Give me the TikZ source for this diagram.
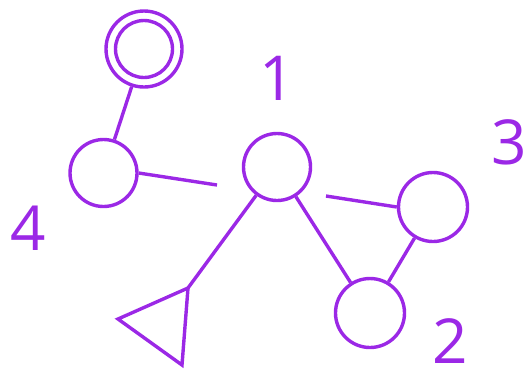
\documentclass[tikz,border=0pt]{standalone}
\usepackage{fontspec}
\setmainfont{Open Sans}
\definecolor{vio}{RGB}{155,40,230}
\begin{document}
\begin{tikzpicture}[x=1pt,y=-1pt,
  nd/.style={circle,draw=vio,line width=3.4pt,minimum size=#1,inner sep=0pt},
  nd/.default=66pt,
  ln/.style={draw=vio,line width=3.4pt},
  lbl/.style={text=vio,font=\fontsize{62}{62}\selectfont,inner sep=0pt}]
\useasboundingbox (0,0) rectangle (526,376);
\node[nd=76pt] (d) at (144,49) {};
\node[nd=57pt] (din) at (144,49) {};
\node[nd=67pt] (n4) at (103.5,173) {};
\node[nd=67pt] (n1) at (277,167) {};
\node[nd=69pt] (n2) at (370,313) {};
\node[nd=69pt] (n3) at (433,207) {};
\coordinate (e4) at (217,185);
\coordinate (e3) at (326,196);
\coordinate (ta) at (188,288);
\coordinate (tb) at (118,319);
\coordinate (tc) at (182,365);
\draw[ln] (d) -- (n4);
\draw[ln] (n4.east) -- (e4);
\draw[ln] (n1) -- (ta);
\draw[ln] (n1) -- (n2);
\draw[ln] (e3) -- (n3.west);
\draw[ln] (n3) -- (n2);
\draw[ln,line join=miter] (ta) -- (tb) -- (tc) -- cycle;
\node[lbl] (l1) at (277,78) {1};
\node[lbl] (l2) at (450,341) {2};
\node[lbl] (l3) at (509,142) {3};
\node[lbl] (l4) at (28,228) {4};
\end{tikzpicture}
\end{document}
